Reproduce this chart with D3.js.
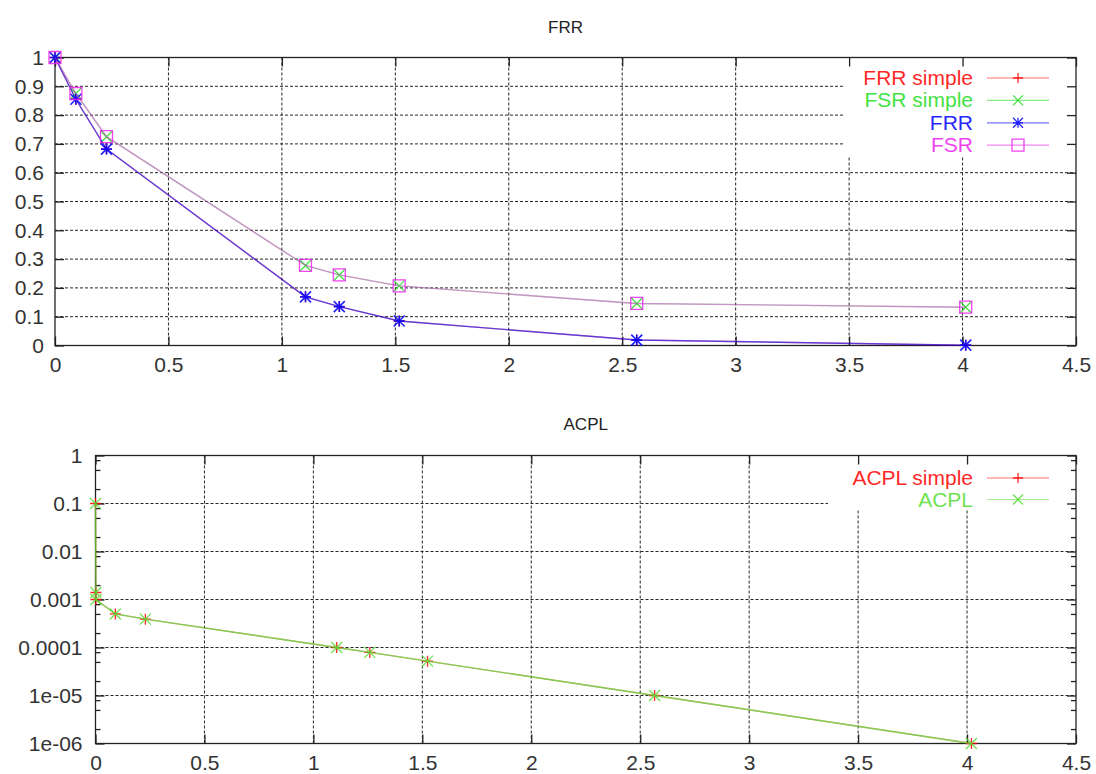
<!DOCTYPE html>
<html>
<head>
<meta charset="utf-8">
<script src="https://cdn.jsdelivr.net/npm/d3@7"></script>
<style>
body {margin:0; background:#fff;}
svg {display:block;}
text {font-family:"Liberation Sans", Arial, sans-serif;}
</style>
</head>
<body>
<svg width="1096" height="774"></svg>
<script>
// ---- data ----
var xTop = [0, 0.092, 0.227, 1.104, 1.253, 1.517, 2.564, 4.014];
var frrSimple = [1, 0.855, 0.682, 0.169, 0.135, 0.085, 0.019, 0.001];
var fsrSimple = [1, 0.875, 0.725, 0.278, 0.245, 0.207, 0.146, 0.133];
var frr = [1, 0.855, 0.682, 0.169, 0.135, 0.085, 0.019, 0.001];
var fsr = [1, 0.875, 0.725, 0.278, 0.245, 0.207, 0.146, 0.133];

var xBottom = [0, 0.002, 0.002, 0.091, 0.229, 1.107, 1.259, 1.524, 2.566, 4.02];
var acplSimple = [0.1, 0.0014, 0.001, 0.0005, 0.00039, 0.0001, 0.000079, 0.000052, 0.00001, 0.000001];
var acpl = [0.1, 0.0014, 0.001, 0.0005, 0.00039, 0.0001, 0.000079, 0.000052, 0.00001, 0.000001];

var xTicks = [0, 0.5, 1, 1.5, 2, 2.5, 3, 3.5, 4, 4.5];
var xTickLabels = ['0', '0.5', '1', '1.5', '2', '2.5', '3', '3.5', '4', '4.5'];
var yTicksTop = [0, 0.1, 0.2, 0.3, 0.4, 0.5, 0.6, 0.7, 0.8, 0.9, 1];
var yTickLabelsTop = ['0', '0.1', '0.2', '0.3', '0.4', '0.5', '0.6', '0.7', '0.8', '0.9', '1'];
var yTicksBottom = [1e-6, 1e-5, 1e-4, 1e-3, 1e-2, 1e-1, 1];
var yTickLabelsBottom = ['1e-06', '1e-05', '0.0001', '0.001', '0.01', '0.1', '1'];

// lineOp: opacity of the connecting line (upper series partly hide the lower ones)
var topSeries = [
  {name: 'FRR simple', values: frrSimple, color: '#ff0000', mark: 'plus', lineOp: 0.4},
  {name: 'FSR simple', values: fsrSimple, color: '#22dd22', mark: 'cross', lineOp: 0.4},
  {name: 'FRR', values: frr, color: '#0000ff', mark: 'star', lineOp: 0.62},
  {name: 'FSR', values: fsr, color: '#ee22ee', mark: 'square', lineOp: 0.45}
];
var bottomSeries = [
  {name: 'ACPL simple', values: acplSimple, color: '#ff0000', mark: 'plus', lineOp: 0.4},
  {name: 'ACPL', values: acpl, color: '#55dd33', mark: 'cross', lineOp: 0.75}
];

///////////// drawing /////////////
var svg = d3.select('svg');

function markerPath(type, x, y, s) {
  var plus = 'M' + (x - s) + ',' + y + 'H' + (x + s) + 'M' + x + ',' + (y - s) + 'V' + (y + s);
  var cross = 'M' + (x - s) + ',' + (y - s) + 'L' + (x + s) + ',' + (y + s) +
              'M' + (x - s) + ',' + (y + s) + 'L' + (x + s) + ',' + (y - s);
  if (type == 'plus') return plus;
  if (type == 'cross') return cross;
  if (type == 'star') return plus + cross;
  // square
  return 'M' + (x - s) + ',' + (y - s) + 'H' + (x + s) + 'V' + (y + s) + 'H' + (x - s) + 'Z';
}

function drawPlot(o) {
  var g = svg.append('g');
  var x = o.x, y = o.y;
  var x0 = x.range()[0], x1 = x.range()[1];
  var yb = y.range()[0], yt = y.range()[1];

  // title
  g.append('text')
    .attr('x', (x0 + x1) / 2).attr('y', o.titleY)
    .attr('text-anchor', 'middle')
    .attr('font-size', 17).attr('fill', '#222')
    .text(o.title);

  // dotted grid
  var grid = g.append('g').attr('stroke', '#000').attr('stroke-width', 1)
    .attr('stroke-dasharray', '3,2').attr('opacity', 0.85);
  xTicks.slice(1, -1).forEach(function(t) {
    grid.append('line').attr('x1', x(t)).attr('x2', x(t)).attr('y1', yt).attr('y2', yb);
  });
  o.yTicks.slice(1, -1).forEach(function(t) {
    grid.append('line').attr('x1', x0).attr('x2', x1).attr('y1', y(t)).attr('y2', y(t));
  });

  // opaque key box
  g.append('rect')
    .attr('x', o.keyBox[0]).attr('y', yt)
    .attr('width', x1 - o.keyBox[0]).attr('height', o.keyBox[1] - yt)
    .attr('fill', '#fff');

  // axes with inward ticks, mirrored on all sides
  var fmtX = function(d, i) { return xTickLabels[i]; };
  var fmtY = function(d, i) { return o.yLabels[i]; };
  g.append('g').attr('transform', 'translate(0,' + yb + ')')
    .call(d3.axisBottom(x).tickValues(xTicks).tickFormat(fmtX).tickSize(-9).tickPadding(12));
  g.append('g').attr('transform', 'translate(' + x0 + ',0)')
    .call(d3.axisLeft(y).tickValues(o.yTicks).tickFormat(fmtY).tickSize(-9).tickPadding(o.yPad));
  g.append('g').attr('transform', 'translate(0,' + yt + ')')
    .call(d3.axisTop(x).tickValues(xTicks).tickFormat('').tickSize(-9));
  g.append('g').attr('transform', 'translate(' + x1 + ',0)')
    .call(d3.axisRight(y).tickValues(o.yTicks).tickFormat('').tickSize(-9));
  if (o.minor) {
    g.append('g').attr('transform', 'translate(' + x0 + ',0)')
      .call(d3.axisLeft(y).tickValues(o.minor).tickFormat('').tickSize(-5));
    g.append('g').attr('transform', 'translate(' + x1 + ',0)')
      .call(d3.axisRight(y).tickValues(o.minor).tickFormat('').tickSize(-5));
  }
  g.selectAll('.domain').remove();
  g.selectAll('.tick line').attr('stroke', '#222').attr('stroke-width', 1.3);
  g.selectAll('.tick text').attr('font-size', 21).attr('fill', '#333')
    .attr('font-family', '"Liberation Sans", Arial, sans-serif');

  // border
  g.append('rect')
    .attr('x', x0).attr('y', yt).attr('width', x1 - x0).attr('height', yb - yt)
    .attr('fill', 'none').attr('stroke', '#222').attr('stroke-width', 1.3);

  // series
  o.series.forEach(function(s) {
    var pts = s.values.map(function(v, i) { return [x(o.xs[i]), y(v)]; });
    g.append('path')
      .attr('d', d3.line()(pts))
      .attr('fill', 'none').attr('stroke', s.color)
      .attr('stroke-width', 1.4).attr('opacity', s.lineOp);
    g.append('path')
      .attr('d', pts.map(function(p) { return markerPath(s.mark, p[0], p[1], s.mark == 'square' ? 6 : 5.5); }).join(''))
      .attr('fill', 'none').attr('stroke', s.color)
      .attr('stroke-width', s.mark == 'star' ? 1.7 : 1.3).attr('opacity', 0.85);
  });

  // key
  o.series.forEach(function(s, i) {
    var ky = o.keyY + i * o.keyStep;
    g.append('text')
      .attr('x', 973).attr('y', ky + 7)
      .attr('text-anchor', 'end').attr('font-size', 21)
      .attr('fill', s.color).attr('opacity', 0.85)
      .text(s.name);
    g.append('line')
      .attr('x1', 987).attr('x2', 1049).attr('y1', ky).attr('y2', ky)
      .attr('stroke', s.color).attr('stroke-width', 1.2).attr('opacity', 0.55);
    g.append('path')
      .attr('d', markerPath(s.mark, 1018, ky, s.mark == 'square' ? 6 : 5))
      .attr('fill', 'none').attr('stroke', s.color).attr('stroke-width', 1.3).attr('opacity', 0.85);
  });
}

var minorBottom = [];
yTicksBottom.slice(0, -1).forEach(function(t) {
  [2, 5, 8].forEach(function(m) { minorBottom.push(t * m); });
});

drawPlot({
  title: 'FRR', titleY: 33,
  x: d3.scaleLinear().domain([0, 4.5]).range([55, 1076]),
  y: d3.scaleLinear().domain([0, 1]).range([345.5, 57.5]),
  xs: xTop, series: topSeries,
  yTicks: yTicksTop, yLabels: yTickLabelsTop, yPad: 11,
  keyBox: [843, 156], keyY: 78, keyStep: 22.4
});

drawPlot({
  title: 'ACPL', titleY: 430,
  x: d3.scaleLinear().domain([0, 4.5]).range([95.5, 1076]),
  y: d3.scaleLog().domain([1e-6, 1]).range([743.5, 455.5]),
  xs: xBottom, series: bottomSeries,
  yTicks: yTicksBottom, yLabels: yTickLabelsBottom, yPad: 13, minor: minorBottom,
  keyBox: [828, 510], keyY: 478, keyStep: 21.5
});
</script>
</body>
</html>
